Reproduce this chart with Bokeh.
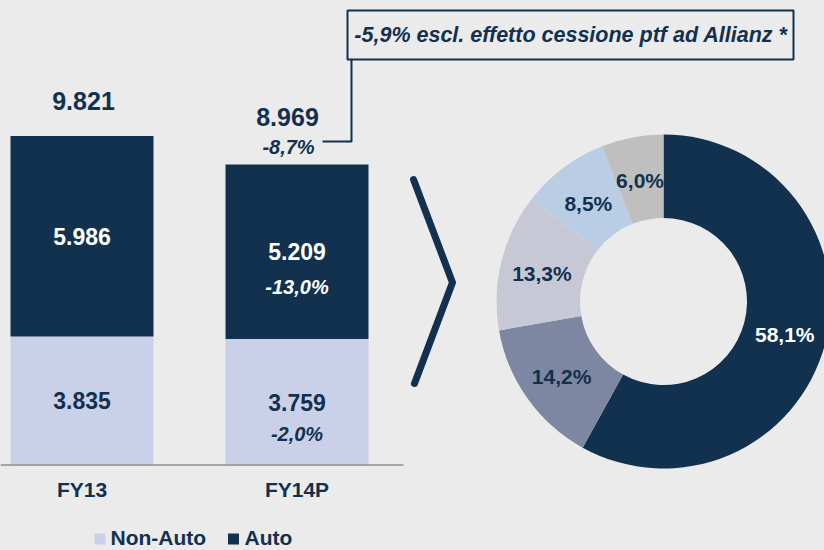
import numpy as np
from bokeh.plotting import figure
from bokeh.models import Range1d, ColumnDataSource
from bokeh.embed import file_html
from bokeh.resources import INLINE
from bokeh.core.properties import value

# ---------------- data ----------------
categories = ["FY13", "FY14P"]
non_auto = [3835, 3759]
auto = [5986, 5209]
totals = [9821, 8969]
non_auto_change = ["", "-2,0%"]
auto_change = ["", "-13,0%"]
total_change = ["", "-8,7%"]
note_text = "-5,9% escl. effetto cessione ptf ad Allianz *"
legend_names = ["Non-Auto", "Auto"]

mix_shares = [58.1, 14.2, 13.3, 8.5, 6.0]
mix_labels = ["58,1%", "14,2%", "13,3%", "8,5%", "6,0%"]

# ---------------- style ----------------
BG = "#ebebeb"
NAVY = "#11314f"
NA_COL = "#cbd0e9"
MIX_COLORS = ["#11314f", "#7e87a1", "#c7c8d6", "#b9cde4", "#bfbfbf"]
MIX_TEXT = ["white", NAVY, NAVY, NAVY, NAVY]
FONT = value("Liberation Sans")

W, H = 824, 550


def fmt(v):
    return f"{v:,}".replace(",", ".")


def px(xpage):
    return xpage


def py(ypage):
    return H - ypage


idx = list(range(len(categories)))

unit_px = 215.0
bar_center0 = 81.5
upp = 9821 / 329.0  # data units per pixel
base_from_bottom = H - 464.5

p = figure(width=W, height=H,
           x_range=Range1d(-bar_center0 / unit_px, (W - bar_center0) / unit_px),
           y_range=Range1d(-base_from_bottom * upp, (H - base_from_bottom) * upp),
           output_backend="svg", toolbar_location=None, min_border=0,
           x_axis_location=None, y_axis_location=None,
           background_fill_color=BG, border_fill_color=BG, outline_line_color=None)
p.xgrid.visible = False
p.ygrid.visible = False
p.extra_x_ranges = {"px": Range1d(0, W)}
p.extra_y_ranges = {"px": Range1d(0, H)}

# ---------------- bars ----------------
src = ColumnDataSource(dict(
    x=idx, cat=categories, na=non_auto, tot=totals,
    na_mid=[n / 2 for n in non_auto],
    au_mid=[n + (t - n) / 2 for n, t in zip(non_auto, totals)],
    na_lbl=[fmt(v) for v in non_auto], au_lbl=[fmt(v) for v in auto],
    tot_lbl=[fmt(v) for v in totals],
    na_chg=non_auto_change, au_chg=auto_change, tot_chg=total_change,
    tot_yoff=[-35 if c == "" else -48 for c in total_change],
    tot_xoff=[1.5, -9.5],
))

p.vbar(x="x", width=0.665, bottom=0, top="na", source=src,
       fill_color=NA_COL, line_color=None)
p.vbar(x="x", width=0.665, bottom="na", top="tot", source=src,
       fill_color=NAVY, line_color=None)

common = dict(source=src, text_align="center", text_baseline="middle", text_font=FONT)
p.text(x="x", y="na_mid", text="na_lbl", y_offset=0, text_font_size="23px",
       text_font_style="bold", text_color=NAVY, **common)
p.text(x="x", y="na_mid", text="na_chg", y_offset=32, text_font_size="20px",
       text_font_style="bold italic", text_color=NAVY, **common)
p.text(x="x", y="au_mid", text="au_lbl", y_offset=0, text_font_size="23px",
       text_font_style="bold", text_color="white", **common)
p.text(x="x", y="au_mid", text="au_chg", y_offset=35, text_font_size="20px",
       text_font_style="bold italic", text_color="white", **common)
p.text(x="x", y="tot", text="tot_lbl", y_offset="tot_yoff", x_offset="tot_xoff",
       text_font_size="25px", text_font_style="bold", text_color=NAVY, **common)
p.text(x="x", y="tot", text="tot_chg", y_offset=-18, x_offset=-8.5,
       text_font_size="20px", text_font_style="bold italic", text_color=NAVY, **common)

# category labels
p.text(x="x", y=py(489), text="cat", y_range_name="px", text_font_size="21px",
       text_font_style="bold", text_color=NAVY, **common)

# baseline
p.segment(x0=[px(0)], x1=[px(403)], y0=[0], y1=[0], x_range_name="px",
          line_color="#8f8f8f", line_width=1.5)

# ---------------- chevron ----------------
p.line(x=[px(413), px(452), px(414)], y=[py(179), py(282), py(383)],
       x_range_name="px", y_range_name="px", line_color=NAVY, line_width=7,
       line_cap="round", line_join="round")

# ---------------- note box ----------------
p.quad(left=[px(347)], right=[px(793)], top=[py(10)], bottom=[py(59)],
       x_range_name="px", y_range_name="px", fill_color=BG, line_color=NAVY, line_width=2)
p.text(x=[px(570.5)], y=[py(34)], text=[note_text], x_range_name="px", y_range_name="px",
       text_align="center", text_baseline="middle", text_font=FONT,
       text_font_size="21.5px", text_font_style="bold italic", text_color=NAVY)
p.line(x=[px(351), px(351), px(322)], y=[py(59), py(141), py(141)],
       x_range_name="px", y_range_name="px", line_color=NAVY, line_width=2)

# ---------------- donut ----------------
shares = np.array(mix_shares, dtype=float)
frac = shares / shares.sum()
cum_end = np.cumsum(frac)
cum_start = cum_end - frac
start_ang = np.pi / 2 - 2 * np.pi * cum_end
end_ang = np.pi / 2 - 2 * np.pi * cum_start
mid_ang = np.pi / 2 - 2 * np.pi * (cum_start + cum_end) / 2
cx, cy = px(663), py(301)
r_in, r_out = 83.5, 167
r_mid = (r_in + r_out) / 2

dsrc = ColumnDataSource(dict(
    start=start_ang, end=end_ang, color=MIX_COLORS, lbl=mix_labels, tcol=MIX_TEXT,
    lx=cx + r_mid * np.cos(mid_ang), ly=cy + r_mid * np.sin(mid_ang),
))
p.annular_wedge(x=cx, y=cy, inner_radius=r_in, outer_radius=r_out,
                inner_radius_units="screen", outer_radius_units="screen",
                start_angle="start", end_angle="end", fill_color="color",
                line_color=None, source=dsrc, x_range_name="px", y_range_name="px")
p.text(x="lx", y="ly", text="lbl", text_color="tcol", source=dsrc, y_offset=2,
       x_range_name="px", y_range_name="px", text_align="center", text_baseline="middle",
       text_font=FONT, text_font_size="21px", text_font_style="bold")

# ---------------- legend ----------------
p.scatter(x=[px(99.5), px(233)], y=[py(538.5), py(538.5)], marker="square", size=11,
          fill_color=[NA_COL, NAVY], line_color=None, x_range_name="px", y_range_name="px")
p.text(x=[px(110), px(244)], y=[py(537), py(537)], text=legend_names,
       x_range_name="px", y_range_name="px", text_align="left", text_baseline="middle",
       text_font=FONT, text_font_size="21px", text_font_style="bold", text_color=NAVY)

html = file_html(p, INLINE, title="Premi")
html = html.replace("</head>",
                    "<style>html,body{background:#ebebeb;margin:0;overflow:hidden;}</style></head>", 1)
open("out.html", "w").write(html)
